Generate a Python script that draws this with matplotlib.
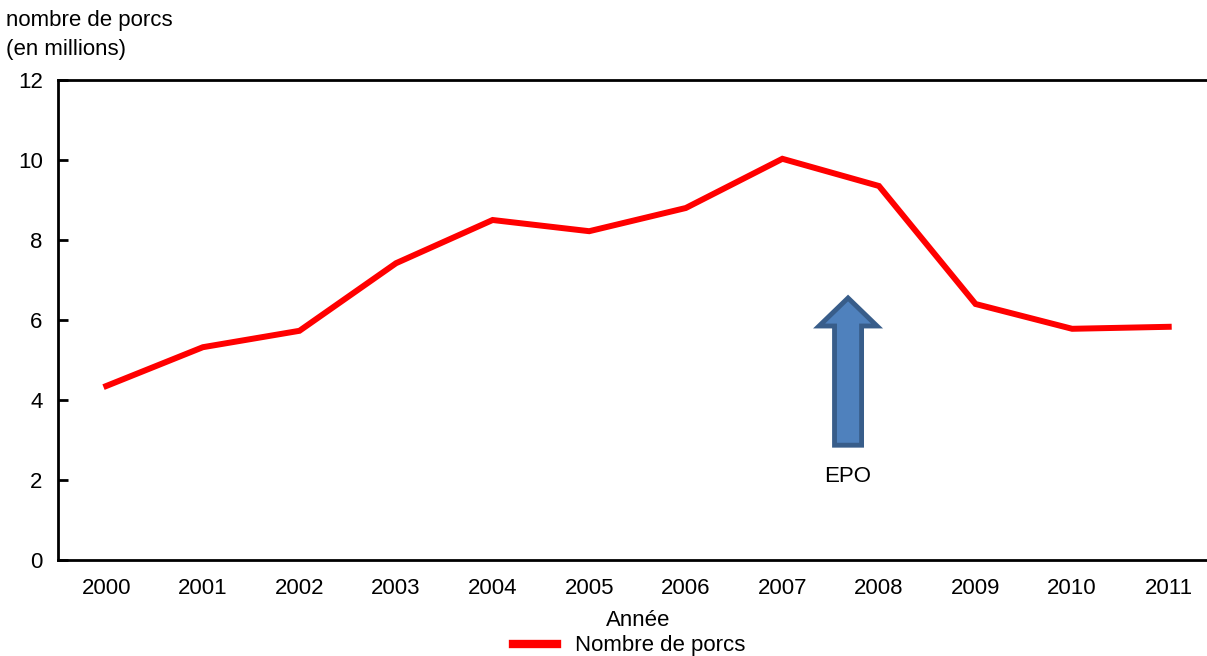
import matplotlib.pyplot as plt
from matplotlib.patches import FancyArrow

plt.rcParams['font.family'] = ['Liberation Sans', 'DejaVu Sans']

years = ['2000', '2001', '2002', '2003', '2004', '2005',
         '2006', '2007', '2008', '2009', '2010', '2011']
porcs = [4.35, 5.32, 5.73, 7.42, 8.5, 8.22, 8.8, 10.03, 9.35, 6.4, 5.78, 5.83]

fig = plt.figure(figsize=(12.07, 6.56), dpi=100)
# axes runs past the right edge of the picture, as in the reference
ax = fig.add_axes([58 / 1207, 96 / 656, 1159 / 1207, 480 / 656])

x = list(range(len(years)))
ax.plot(x, porcs, color='#ff0000', lw=4.3, solid_joinstyle='miter',
        label='Nombre de porcs')

ax.set_xlim(-0.5, 11.5)
ax.set_ylim(0, 12)
ax.set_yticks([0, 2, 4, 6, 8, 10, 12])
ax.set_xticks(x)
ax.set_xticklabels(years)
ax.tick_params(axis='y', direction='in', length=7, width=2, labelsize=16, pad=11)
ax.tick_params(axis='x', length=0, labelsize=16, pad=13)
for s in ['left', 'bottom', 'top']:
    ax.spines[s].set_linewidth(2)
ax.spines['right'].set_visible(False)

# EPO arrow
arr = FancyArrow(7.68, 2.87, 0, 3.68, width=0.28, head_width=0.6,
                 head_length=0.7, length_includes_head=True,
                 facecolor='#4f81bd', edgecolor='#385d8a', lw=3.5, zorder=3)
ax.add_patch(arr)
ax.text(7.68, 2.1, 'EPO', ha='center', va='center', fontsize=16)

fig.text(6 / 1207, 1 - 35 / 656, 'nombre de porcs\n(en millions)',
         ha='left', va='center', fontsize=16, linespacing=1.45)
fig.text(638 / 1207, 1 - 620 / 656, 'Année', ha='center', va='center', fontsize=16)

leg = fig.legend(loc='center', bbox_to_anchor=(629 / 1207, 1 - 646 / 656),
                 frameon=False, fontsize=16, handlelength=2.0, handletextpad=0.8)
leg.get_lines()[0].set_linewidth(6)

fig.savefig('out.png', dpi=100)
